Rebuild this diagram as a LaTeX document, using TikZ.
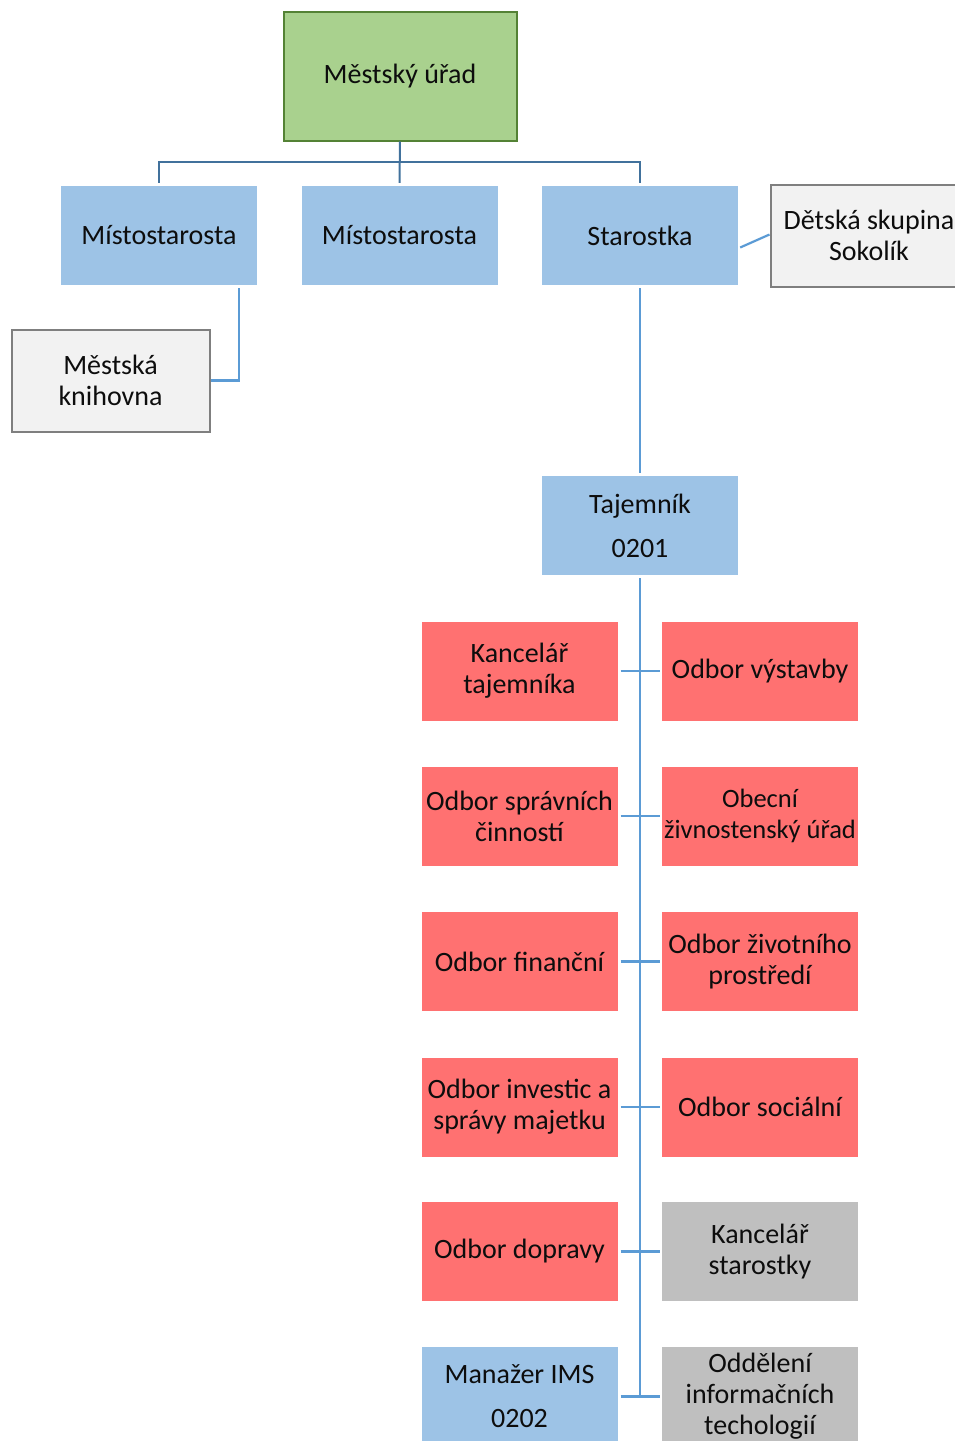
\documentclass[tikz,border=0pt]{standalone}
\usepackage{fontspec}
\setmainfont{Carlito}
\usetikzlibrary{calc}
\definecolor{grn}{HTML}{A9D18E}
\definecolor{grnb}{HTML}{548235}
\definecolor{blu}{HTML}{9DC3E6}
\definecolor{redb}{HTML}{FF7171}
\definecolor{gryb}{HTML}{BFBFBF}
\definecolor{ltg}{HTML}{F2F2F2}
\definecolor{ltgb}{HTML}{7F7F7F}
\definecolor{lineA}{HTML}{41719C}
\definecolor{lineB}{HTML}{5B9BD5}
\definecolor{txt}{HTML}{0D0D0D}
\tikzset{
  box/.style={minimum width=196pt, minimum height=99pt, inner sep=0pt, align=center,
    font=\fontsize{28}{31}\selectfont, text=txt},
  bluebox/.style={box, fill=blu},
  redbox/.style={box, fill=redb},
  greybox/.style={box, fill=gryb},
  lightbox/.style={box, fill=ltg, draw=ltgb, line width=2pt},
  topline/.style={draw=lineA, line width=2pt},
  conn/.style={draw=lineB, line width=2.2pt},
}
\begin{document}
\begin{tikzpicture}[x=1pt,y=-1pt]
\useasboundingbox (0,0) rectangle (955,1441);
\begin{scope}
\clip (0,0) rectangle (955,1441);
\node[box, fill=grn, draw=grnb, line width=2pt, minimum width=233pt, minimum height=129pt] (uh) at (400,76) {Městský úřad};
\node[bluebox] (m1) at (159,235.5) {Místostarosta};
\node[bluebox] (m2) at (399.5,235.5) {Místostarosta};
\node[bluebox] (st) at (640,235.5) {Starostka};
\node[lightbox, minimum width=197pt, minimum height=102pt] (ds) at (869,235.5) {Dětská skupina\\Sokolík};
\node[lightbox, minimum width=198pt, minimum height=102pt] (kn) at (110.5,380.5) {Městská\\knihovna};
\node[bluebox, font=\fontsize{28}{44}\selectfont] (taj) at (640,525.5) {Tajemník\\0201};
\node[redbox] (l1) at (519.5,671) {Kancelář\\tajemníka};
\node[redbox] (r1) at (760,671) {Odbor výstavby};
\node[redbox] (l2) at (519.5,816) {Odbor správních\\činností};
\node[redbox, font=\fontsize{26.5}{31}\selectfont] (r2) at (760,816) {Obecní\\živnostenský úřad};
\node[redbox] (l3) at (519.5,961.5) {Odbor finanční};
\node[redbox] (r3) at (760,961.5) {Odbor životního\\prostředí};
\node[redbox] (l4) at (519.5,1107) {Odbor investic a\\správy majetku};
\node[redbox] (r4) at (760,1107) {Odbor sociální};
\node[redbox] (l5) at (519.5,1251.5) {Odbor dopravy};
\node[greybox] (r5) at (760,1251.5) {Kancelář\\starostky};
\node[bluebox, font=\fontsize{28}{44}\selectfont] (l6) at (519.5,1396.5) {Manažer IMS\\0202};
\node[greybox] (r6) at (760,1396.5) {Oddělení\\informačních\\techologií};
\end{scope}
\coordinate (bus) at (400,162);
\draw[topline] ([yshift=3pt]m1.north) |- (bus) -| ([yshift=3pt]st.north);
\draw[topline] (uh.south) -- ([yshift=3pt]m2.north);
\draw[conn] ([xshift=80pt,yshift=-3pt]m1.south) |- (kn.east);
\draw[conn] ([xshift=2pt,yshift=-12pt]st.east) -- ([yshift=1pt]ds.west);
\draw[conn] ([yshift=-3pt]st.south) -- ([yshift=3pt]taj.north);
\draw[conn] ([yshift=-3pt]taj.south) -- (taj.south |- l6.east);
\foreach \r in {1,...,6}{
  \draw[conn, shorten <=3pt, shorten >=2pt] (l\r.east) -- (r\r.west);
}
\end{tikzpicture}
\end{document}
